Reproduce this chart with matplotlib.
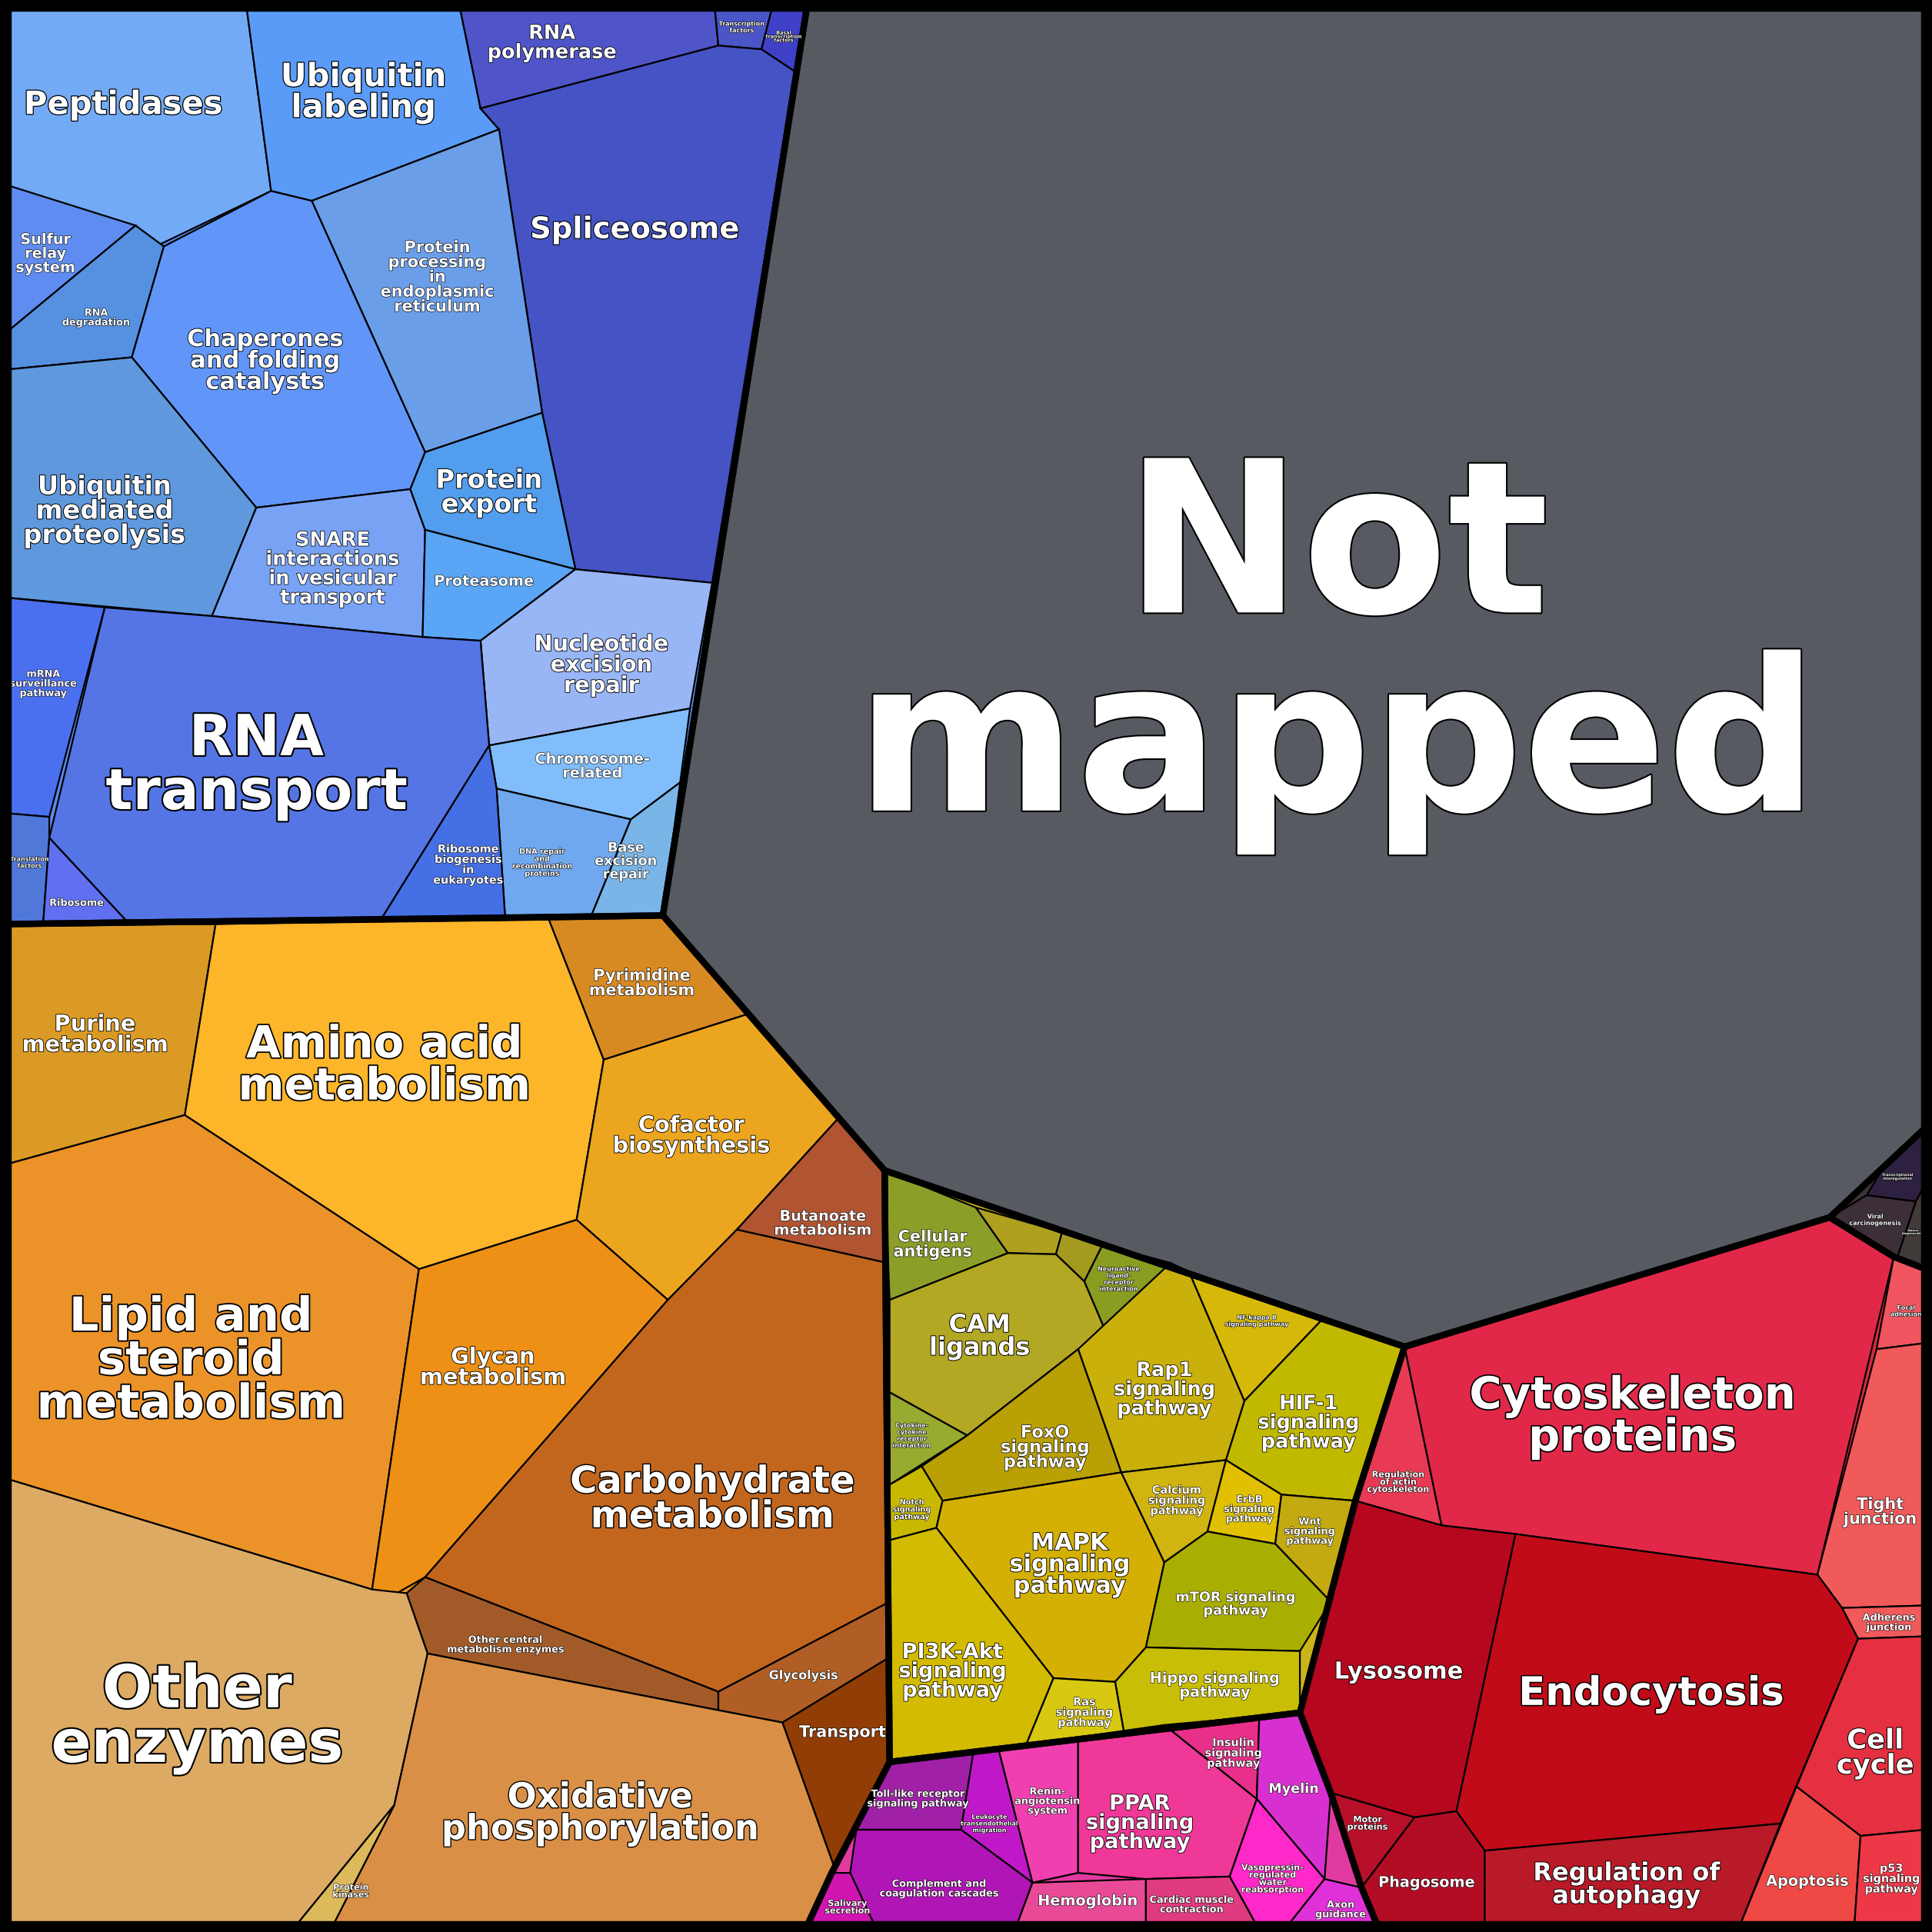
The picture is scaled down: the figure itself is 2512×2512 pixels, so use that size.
import matplotlib
matplotlib.use("Agg")
import matplotlib.pyplot as plt
from matplotlib.patches import Polygon
import matplotlib.patheffects as pe

S = 1568.0  # reference coordinate scale (y grows downward)

# group outlines
groups = {
    "blue":   [(5, 5), (655, 5), (538, 743), (410, 745), (5, 750)],
    "notmap": [(655, 5), (1563, 5), (1563, 915), (1485, 988), (1140, 1093), (718, 950), (538, 743)],
    "orange": [(5, 750), (538, 743), (718, 950), (722, 1430), (675, 1520), (655, 1563), (5, 1563)],
    "yellow": [(718, 950), (1140, 1093), (1100, 1218), (1055, 1390), (722, 1430)],
    "pink":   [(722, 1430), (1055, 1390), (1080, 1455), (1105, 1532), (1118, 1563), (655, 1563), (675, 1520)],
    "red":    [(1140, 1093), (1485, 988), (1537, 1020), (1563, 1030), (1563, 1563), (1118, 1563),
               (1105, 1532), (1080, 1455), (1055, 1390), (1100, 1218)],
    "dark":   [(1485, 988), (1563, 915), (1563, 1030), (1537, 1020)],
}
group_colors = {"blue": "#5a8ae8", "notmap": "#575b61", "orange": "#e8952a", "yellow": "#c9b41a",
                "pink": "#e03aa0", "red": "#d42a40", "dark": "#3a3236"}

# cells: name, color, polygon, label position, font size (reference px)
cells = [
    # genetic information / protein processing
    ("Peptidases", "#72aaf5", [(5, 5), (200, 5), (220, 155), (120, 203), (5, 150)], (100, 85), 26),
    ("Ubiquitin\nlabeling", "#5a9bf7", [(200, 5), (373, 5), (390, 88), (405, 105), (253, 163), (220, 155)], (295, 75), 26),
    ("RNA\npolymerase", "#4f55c8", [(373, 5), (580, 5), (583, 37), (390, 88)], (448, 35), 16),
    ("Transcription\nfactors", "#4a55c8", [(580, 5), (627, 5), (618, 40), (583, 37)], (602, 22), 5),
    ("Basal\ntranscription\nfactors", "#3f40c8", [(627, 5), (655, 5), (645, 58), (618, 40)], (636, 30), 4),
    ("Spliceosome", "#4553c5", [(390, 88), (583, 37), (618, 40), (645, 58), (578, 473), (467, 462), (440, 335), (405, 105)], (515, 187), 24),
    ("Protein\nprocessing\nin\nendoplasmic\nreticulum", "#6a9ee8", [(253, 163), (405, 105), (440, 335), (345, 367)], (355, 225), 13),
    ("Sulfur\nrelay\nsystem", "#5f8cf0", [(5, 150), (110, 183), (5, 270)], (37, 206), 12),
    ("RNA\ndegradation", "#5690e0", [(5, 270), (110, 183), (133, 200), (107, 290), (5, 300)], (78, 258), 8),
    ("Chaperones\nand folding\ncatalysts", "#6196f8", [(133, 200), (220, 155), (253, 163), (345, 367), (333, 397), (208, 412), (107, 290)], (215, 293), 19),
    ("Ubiquitin\nmediated\nproteolysis", "#5f98dd", [(5, 300), (107, 290), (208, 412), (172, 500), (5, 485)], (85, 415), 21),
    ("SNARE\ninteractions\nin vesicular\ntransport", "#78a3f5", [(208, 412), (333, 397), (345, 430), (343, 517), (172, 500)], (270, 462), 16),
    ("Protein\nexport", "#529ded", [(345, 367), (440, 335), (467, 462), (345, 430), (333, 397)], (397, 400), 21),
    ("Proteasome", "#5aa5f5", [(345, 430), (467, 462), (390, 520), (343, 517)], (393, 472), 12),
    ("Nucleotide\nexcision\nrepair", "#98b5f5", [(390, 520), (467, 462), (578, 473), (560, 575), (397, 605)], (488, 540), 18),
    ("Chromosome-\nrelated", "#80bdfa", [(397, 605), (560, 575), (552, 635), (512, 665), (403, 640)], (481, 622), 12),
    ("DNA repair\nand\nrecombination\nproteins", "#6fa8ee", [(403, 640), (512, 665), (480, 743), (410, 745)], (440, 700), 6),
    ("Base\nexcision\nrepair", "#7ab5e8", [(512, 665), (552, 635), (538, 743), (480, 743)], (508, 699), 11),
    ("RNA\ntransport", "#5575e5", [(85, 493), (172, 500), (343, 517), (390, 520), (397, 605), (310, 745), (105, 750), (40, 680)], (208, 622), 46),
    ("Ribosome\nbiogenesis\nin\neukaryotes", "#4570e5", [(397, 605), (403, 640), (410, 745), (310, 745)], (380, 702), 9),
    ("mRNA\nsurveillance\npathway", "#4a70f0", [(5, 485), (85, 493), (40, 663), (5, 660)], (35, 555), 8),
    ("Translation\nfactors", "#5078d8", [(5, 660), (40, 663), (40, 680), (35, 750), (5, 750)], (24, 700), 5),
    ("Ribosome", "#6070f0", [(40, 680), (105, 750), (35, 750)], (62, 733), 8),
    # metabolism
    ("Purine\nmetabolism", "#da9a25", [(5, 750), (175, 750), (150, 905), (5, 945)], (77, 840), 18),
    ("Amino acid\nmetabolism", "#fdb52a", [(175, 750), (445, 745), (490, 860), (468, 990), (340, 1030), (150, 905)], (312, 865), 36),
    ("Pyrimidine\nmetabolism", "#d88a22", [(445, 745), (538, 743), (607, 823), (490, 860)], (521, 798), 13),
    ("Cofactor\nbiosynthesis", "#eca51f", [(490, 860), (607, 823), (680, 908), (598, 998), (542, 1055), (468, 990)], (561, 922), 18),
    ("Butanoate\nmetabolism", "#b05432", [(680, 908), (718, 950), (720, 1025), (598, 998)], (668, 993), 12),
    ("Lipid and\nsteroid\nmetabolism", "#eb9329", [(5, 945), (150, 905), (340, 1030), (302, 1290), (5, 1200)], (155, 1105), 38),
    ("Glycan\nmetabolism", "#ee9015", [(340, 1030), (468, 990), (542, 1055), (345, 1280), (322, 1293), (302, 1290)], (400, 1110), 18),
    ("Carbohydrate\nmetabolism", "#c2661e", [(542, 1055), (598, 998), (720, 1025), (722, 1300), (583, 1373), (345, 1280)], (578, 1217), 30),
    ("Other central\nmetabolism enzymes", "#a25b28", [(345, 1280), (583, 1373), (583, 1388), (347, 1342), (330, 1293)], (410, 1335), 8),
    ("Glycolysis", "#b05e25", [(583, 1373), (722, 1300), (722, 1345), (635, 1398), (583, 1388)], (652, 1360), 10),
    ("Transport", "#923d05", [(635, 1398), (722, 1345), (722, 1430), (678, 1518)], (684, 1406), 13),
    ("Other\nenzymes", "#dcaa63", [(5, 1200), (302, 1290), (330, 1293), (347, 1342), (320, 1465), (240, 1563), (5, 1563)], (160, 1395), 48),
    ("Oxidative\nphosphorylation", "#d98f45", [(347, 1342), (583, 1388), (635, 1398), (678, 1518), (655, 1563), (270, 1563), (320, 1465)], (487, 1472), 28),
    ("Protein\nkinases", "#dcb95a", [(320, 1465), (270, 1563), (240, 1563)], (285, 1535), 7),
    # signaling
    ("Cellular\nantigens", "#8d9e28", [(718, 950), (792, 980), (818, 1017), (722, 1055)], (757, 1010), 13),
    ("", "#b0a020", [(792, 980), (862, 1000), (857, 1018), (818, 1017)], (828, 1000), 4),
    ("", "#a39a20", [(862, 1000), (895, 1010), (880, 1040), (857, 1018)], (875, 1018), 4),
    ("Neuroactive\nligand-\nreceptor\ninteraction", "#8a9d20", [(895, 1010), (950, 1025), (897, 1080), (880, 1040)], (908, 1038), 5),
    ("CAM\nligands", "#b2a823", [(722, 1055), (818, 1017), (857, 1018), (880, 1040), (897, 1080), (875, 1095), (785, 1165), (722, 1130)], (795, 1085), 20),
    ("Cytokine-\ncytokine\nreceptor\ninteraction", "#98aa30", [(722, 1130), (785, 1165), (722, 1205)], (740, 1165), 5),
    ("Rap1\nsignaling\npathway", "#c9b00a", [(875, 1095), (950, 1025), (965, 1032), (1010, 1137), (995, 1185), (910, 1195)], (945, 1128), 16),
    ("NF-kappa B\nsignaling pathway", "#d6b808", [(965, 1032), (1072, 1072), (1010, 1137)], (1020, 1072), 5),
    ("HIF-1\nsignaling\npathway", "#c1b800", [(1010, 1137), (1072, 1072), (1140, 1093), (1100, 1218), (1040, 1213), (995, 1185)], (1062, 1155), 16),
    ("FoxO\nsignaling\npathway", "#b9a005", [(785, 1165), (875, 1095), (910, 1195), (765, 1218), (748, 1190)], (848, 1175), 14),
    ("Notch\nsignaling\npathway", "#c8b800", [(722, 1205), (748, 1190), (765, 1218), (760, 1240), (722, 1250)], (740, 1225), 6),
    ("MAPK\nsignaling\npathway", "#d4b005", [(765, 1218), (910, 1195), (945, 1268), (930, 1337), (905, 1365), (855, 1362), (760, 1240)], (868, 1270), 19),
    ("Calcium\nsignaling\npathway", "#d0b410", [(910, 1195), (995, 1185), (980, 1243), (945, 1268)], (955, 1218), 9),
    ("ErbB\nsignaling\npathway", "#e0c000", [(995, 1185), (1040, 1213), (1035, 1253), (980, 1243)], (1014, 1225), 8),
    ("Wnt\nsignaling\npathway", "#c2aa10", [(1040, 1213), (1100, 1218), (1080, 1300), (1035, 1253)], (1063, 1243), 8),
    ("mTOR signaling\npathway", "#aaae00", [(945, 1268), (980, 1243), (1035, 1253), (1080, 1300), (1055, 1340), (930, 1337)], (1003, 1302), 11),
    ("Hippo signaling\npathway", "#c8be05", [(930, 1337), (1055, 1340), (1055, 1390), (912, 1405), (905, 1365)], (986, 1368), 12),
    ("PI3K-Akt\nsignaling\npathway", "#d2bb00", [(722, 1250), (760, 1240), (855, 1362), (832, 1418), (722, 1430)], (773, 1357), 17),
    ("Ras\nsignaling\npathway", "#d8c810", [(855, 1362), (905, 1365), (912, 1405), (832, 1418)], (880, 1390), 9),
    # organismal systems
    ("Toll-like receptor\nsignaling pathway", "#a020a8", [(722, 1430), (790, 1422), (780, 1485), (695, 1485)], (745, 1460), 8),
    ("Leukocyte\ntransendothelial\nmigration", "#c018c8", [(790, 1422), (810, 1418), (838, 1528), (780, 1485)], (803, 1480), 5),
    ("Renin-\nangiotensin\nsystem", "#f040b0", [(810, 1418), (875, 1410), (875, 1520), (838, 1528)], (850, 1462), 8),
    ("PPAR\nsignaling\npathway", "#f03898", [(875, 1410), (945, 1400), (1020, 1460), (998, 1523), (930, 1525), (875, 1520)], (925, 1480), 17),
    ("Insulin\nsignaling\npathway", "#e8308a", [(945, 1400), (1022, 1393), (1020, 1460)], (1001, 1423), 9),
    ("Myelin", "#d830d0", [(1022, 1393), (1055, 1390), (1080, 1455), (1075, 1525), (1020, 1460)], (1050, 1452), 11),
    ("Vasopressin-\nregulated\nwater\nreabsorption", "#ff28c8", [(1020, 1460), (1075, 1525), (1045, 1563), (1020, 1563), (998, 1523)], (1033, 1525), 7),
    ("Axon\nguidance", "#e030d8", [(1075, 1525), (1105, 1532), (1118, 1563), (1045, 1563)], (1088, 1550), 8),
    ("Complement and\ncoagulation cascades", "#b015b5", [(695, 1485), (780, 1485), (838, 1528), (825, 1563), (710, 1563), (690, 1520)], (762, 1533), 8),
    ("Hemoglobin", "#e84a98", [(838, 1528), (930, 1525), (930, 1563), (825, 1563)], (883, 1543), 12),
    ("Cardiac muscle\ncontraction", "#e03a80", [(930, 1525), (998, 1523), (1020, 1563), (930, 1563)], (967, 1546), 8),
    ("Salivary\nsecretion", "#d015b0", [(690, 1520), (710, 1563), (655, 1563), (675, 1520)], (688, 1548), 7),
    # cellular processes
    ("Regulation\nof actin\ncytoskeleton", "#e83a55", [(1140, 1093), (1170, 1238), (1100, 1218)], (1135, 1203), 7),
    ("Cytoskeleton\nproteins", "#e22848", [(1140, 1093), (1485, 988), (1537, 1020), (1475, 1278), (1230, 1245), (1170, 1238)], (1325, 1150), 36),
    ("Focal\nadhesion", "#f05560", [(1537, 1020), (1563, 1030), (1563, 1090), (1523, 1095)], (1547, 1064), 5),
    ("Tight\njunction", "#f05a5a", [(1523, 1095), (1563, 1090), (1563, 1303), (1495, 1305), (1475, 1278)], (1526, 1227), 13),
    ("Adherens\njunction", "#f05a5a", [(1495, 1305), (1563, 1303), (1563, 1328), (1508, 1330)], (1533, 1317), 8),
    ("Lysosome", "#b5071e", [(1100, 1218), (1170, 1238), (1230, 1245), (1182, 1470), (1148, 1475), (1080, 1455), (1055, 1390)], (1135, 1357), 19),
    ("Endocytosis", "#c20b18", [(1230, 1245), (1475, 1278), (1495, 1305), (1508, 1330), (1445, 1480), (1205, 1502), (1182, 1470)], (1340, 1375), 32),
    ("Motor\nproteins", "#b8102a", [(1080, 1455), (1148, 1475), (1105, 1532)], (1110, 1480), 7),
    ("Phagosome", "#b30d25", [(1148, 1475), (1182, 1470), (1205, 1502), (1205, 1563), (1118, 1563), (1105, 1532)], (1158, 1528), 12),
    ("Regulation of\nautophagy", "#b81a28", [(1205, 1502), (1445, 1480), (1412, 1563), (1205, 1563)], (1320, 1530), 20),
    ("Cell\ncycle", "#e43040", [(1508, 1330), (1563, 1328), (1563, 1485), (1510, 1490), (1458, 1450)], (1522, 1423), 22),
    ("Apoptosis", "#f04845", [(1458, 1450), (1510, 1490), (1505, 1563), (1412, 1563)], (1467, 1527), 12),
    ("p53\nsignaling\npathway", "#ee3848", [(1510, 1490), (1563, 1485), (1563, 1563), (1505, 1563)], (1535, 1525), 9),
    # small dark cluster
    ("Viral\ncarcinogenesis", "#3c2f38", [(1485, 988), (1515, 970), (1555, 975), (1540, 1020), (1537, 1020)], (1522, 990), 5),
    ("Transcriptional\nmisregulation", "#2e2040", [(1515, 970), (1530, 945), (1563, 915), (1563, 960), (1555, 975)], (1540, 955), 3),
    ("Neuro-\ndegeneration", "#403a38", [(1555, 975), (1563, 960), (1563, 1030), (1540, 1020)], (1553, 1000), 2.5),
]

fig = plt.figure(figsize=(25.12, 25.12), dpi=100)
ax = fig.add_axes([0, 0, 1, 1])
ax.set_xlim(0, S)
ax.set_ylim(S, 0)
ax.axis("off")
fig.patch.set_facecolor("black")

k = 2512 / S * 72 / 100  # reference px -> points


def label(x, y, txt, size):
    pt = size * k
    ax.text(x, y, txt, ha="center", va="center", color="white", fontsize=pt,
            fontweight="bold", linespacing=0.95, zorder=10,
            path_effects=[pe.withStroke(linewidth=max(0.8, min(pt * 0.06, 3.0)), foreground="black")])


for g, poly in groups.items():
    ax.add_patch(Polygon(poly, closed=True, facecolor=group_colors[g], edgecolor="none", zorder=1))

for name, col, poly, pos, size in cells:
    ax.add_patch(Polygon(poly, closed=True, facecolor=col, edgecolor="black", linewidth=1.6, zorder=2))
    if name:
        label(pos[0], pos[1], name, size)

for g, poly in groups.items():
    ax.add_patch(Polygon(poly, closed=True, facecolor="none", edgecolor="black", linewidth=6, zorder=5))

label(1085, 530, "Not\nmapped", 172)

ax.add_patch(Polygon([(3, 3), (1565, 3), (1565, 1565), (3, 1565)], closed=True,
                     facecolor="none", edgecolor="black", linewidth=14, zorder=20))

fig.savefig("out.png", dpi=100, facecolor="black")
